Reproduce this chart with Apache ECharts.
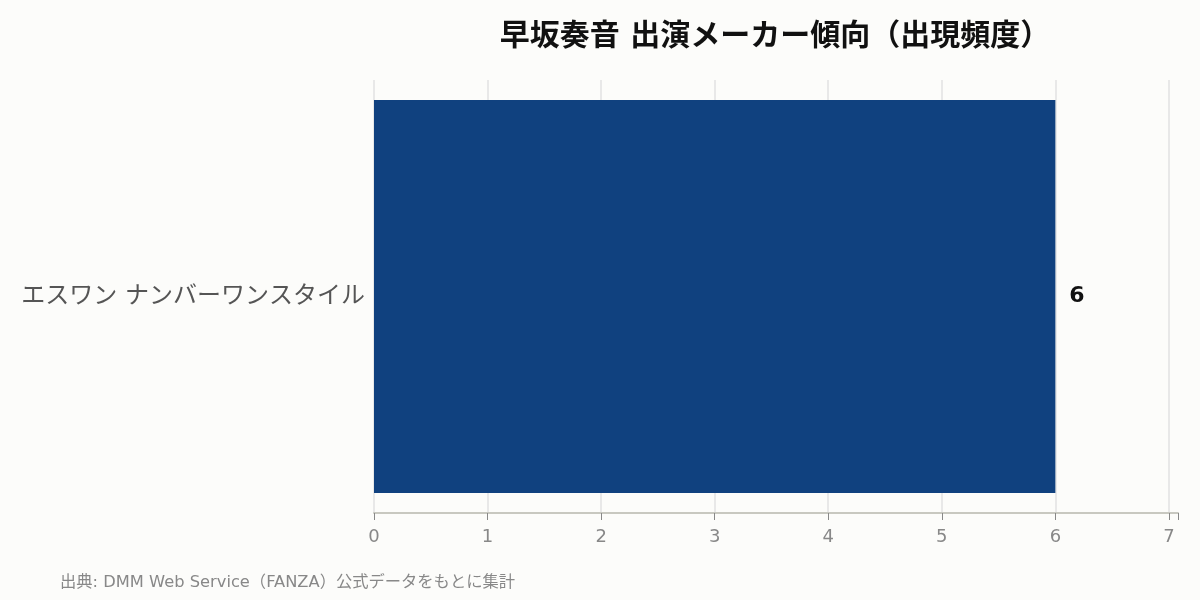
<!DOCTYPE html>
<html>
<head>
<meta charset="utf-8">
<script src="https://cdn.jsdelivr.net/npm/echarts@6/dist/echarts.min.js"></script>
<style>
html, body { margin: 0; padding: 0; background: #fcfcfa; }
#chart { width: 1200px; height: 600px; }
</style>
</head>
<body>
<div id="chart"></div>
<script>
// data
var makers = ['エスワン ナンバーワンスタイル'];
var counts = [6];
var titleText = '早坂奏音 出演メーカー傾向（出現頻度）';
var sourceText = '出典: DMM Web Service（FANZA）公式データをもとに集計';

var font = '"DejaVu Sans", "Noto Sans CJK JP", sans-serif';
var chart = echarts.init(document.getElementById('chart'));

chart.setOption({
    backgroundColor: '#fcfcfa',
    animation: false,
    title: [
        {
            text: titleText,
            left: 770,
            top: 17,
            textAlign: 'center',
            textStyle: { fontFamily: font, fontSize: 30, fontWeight: 'bold', color: '#111' }
        },
        {
            text: sourceText,
            left: 60,
            top: 575,
            padding: 0,
            textStyle: { fontFamily: font, fontSize: 16.3, fontWeight: 'normal', color: '#888' }
        }
    ],
    grid: { left: 374, right: 22, top: 80, bottom: 87 },
    xAxis: {
        type: 'value',
        min: 0,
        max: 7.08,
        interval: 1,
        axisLine: { show: true, lineStyle: { color: '#c8c8c0', width: 2 } },
        axisTick: { show: true, length: 7, lineStyle: { color: '#888' } },
        axisLabel: {
            fontFamily: font, fontSize: 18, color: '#888', margin: 15,
            formatter: function (v) { return Number.isInteger(v) ? String(v) : ''; }
        },
        splitLine: { show: true, showMaxLine: false, lineStyle: { color: '#e2e2e2', width: 1.5 } }
    },
    yAxis: {
        type: 'category',
        data: makers,
        axisLine: { show: false },
        axisTick: { show: false },
        axisLabel: { fontFamily: font, fontSize: 24, color: '#555', margin: 9 }
    },
    series: [
        {
            type: 'bar',
            data: counts,
            barWidth: 393,
            itemStyle: { color: '#10417f' },
            label: {
                show: true,
                position: 'right',
                distance: 14,
                fontFamily: font,
                fontSize: 22,
                fontWeight: 'bold',
                color: '#111'
            }
        }
    ]
});
</script>
</body>
</html>
